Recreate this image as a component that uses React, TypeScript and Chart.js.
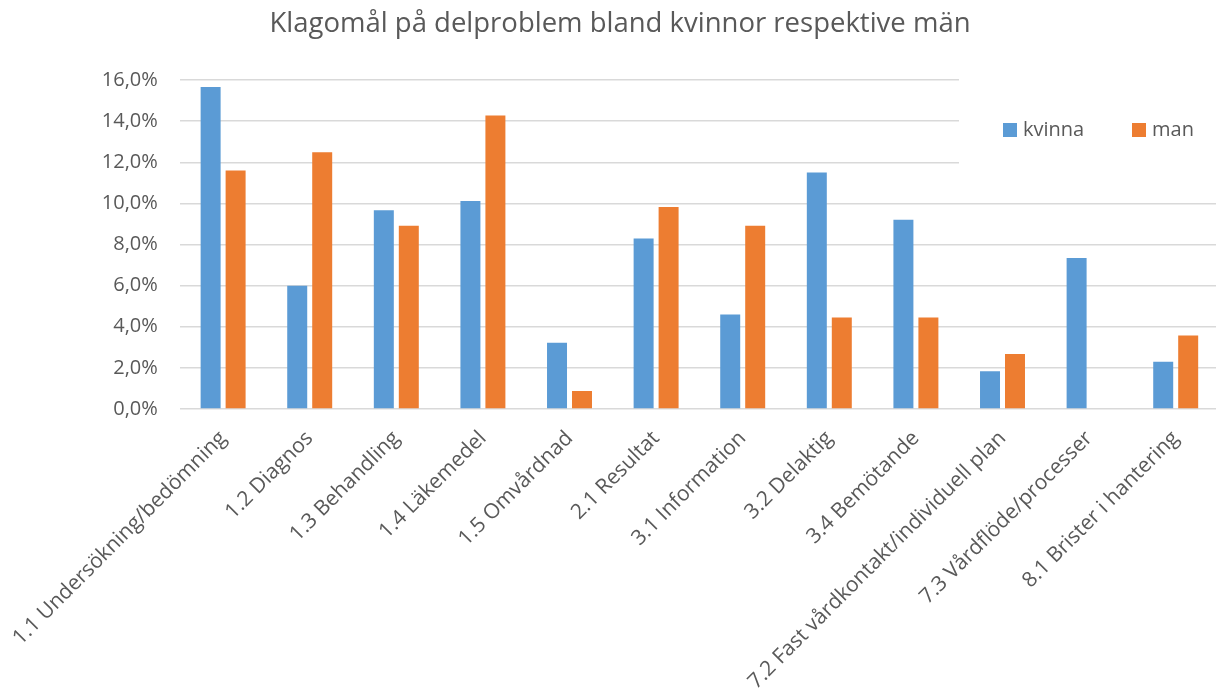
import { useEffect, useRef } from "react";
import { Chart, registerables } from "chart.js";

Chart.register(...registerables);

const title = "Klagomål på delproblem bland kvinnor respektive män";
const categories = [
  "1.1 Undersökning/bedömning",
  "1.2 Diagnos",
  "1.3 Behandling",
  "1.4 Läkemedel",
  "1.5 Omvårdnad",
  "2.1 Resultat",
  "3.1 Information",
  "3.2 Delaktig",
  "3.4 Bemötande",
  "7.2 Fast vårdkontakt/individuell plan",
  "7.3 Vårdflöde/processer",
  "8.1 Brister i hantering",
];
const seriesNames = ["kvinna", "man"];
const kvinnaValues = [15.66, 6.0, 9.67, 10.12, 3.22, 8.29, 4.6, 11.5, 9.2, 1.84, 7.34, 2.3];
const manValues: (number | null)[] = [11.6, 12.49, 8.91, 14.27, 0.88, 9.82, 8.91, 4.45, 4.45, 2.67, null, 3.57];
const yMin = 0;
const yMax = 16;
const yStep = 2;

const FONT = "'Open Sans', sans-serif";
const TEXT = "#595959";
const BLUE = "#5B9BD5";
const ORANGE = "#ED7D31";

const legendPlugin = {
  id: "customLegend",
  afterDraw(chart: any) {
    const ctx = chart.ctx;
    ctx.save();
    ctx.fillStyle = "#ffffff";
    ctx.fillRect(959, 66, 300, 126);
    const xs = [1003, 1132];
    ctx.font = `20px ${FONT}`;
    ctx.textBaseline = "middle";
    ctx.textAlign = "left";
    chart.data.datasets.forEach((ds: any, i: number) => {
      ctx.fillStyle = ds.backgroundColor;
      ctx.fillRect(xs[i], 123, 14, 14);
      ctx.fillStyle = TEXT;
      ctx.fillText(ds.label, xs[i] + 20, 130);
    });
    ctx.restore();
  },
};

export default function App() {
  const ref = useRef<HTMLCanvasElement | null>(null);
  useEffect(() => {
    if (!ref.current) return;
    const chart = new Chart(ref.current, {
      type: "bar",
      data: {
        labels: categories,
        datasets: [
          { label: seriesNames[0], data: kvinnaValues, backgroundColor: BLUE, categoryPercentage: 0.577, barPercentage: 0.8 },
          { label: seriesNames[1], data: manValues, backgroundColor: ORANGE, categoryPercentage: 0.577, barPercentage: 0.8 },
        ],
      },
      options: {
        responsive: false,
        animation: false,
        devicePixelRatio: 1,
        layout: { padding: { left: 21, right: 21, top: 0, bottom: 0 } },
        plugins: {
          legend: { display: false },
          tooltip: { enabled: false },
          title: {
            display: true,
            text: title,
            color: TEXT,
            font: { family: FONT, size: 27.5, weight: "normal", lineHeight: 1.2 },
            padding: { top: 8, bottom: 39 },
          },
        },
        scales: {
          x: {
            grid: { display: false },
            border: { display: false },
            ticks: {
              color: TEXT,
              font: { family: FONT, size: 21 },
              minRotation: 45,
              maxRotation: 45,
              autoSkip: false,
              padding: 9,
            },
            afterFit(scale: any) {
              scale.height = 280;
            },
          },
          y: {
            min: yMin,
            max: yMax,
            grid: { color: "#d9d9d9", lineWidth: 1.5, drawTicks: false },
            border: { display: false },
            ticks: {
              stepSize: yStep,
              color: TEXT,
              padding: 22,
              font: { family: FONT, size: 20 },
              callback: (v: any) => Number(v).toFixed(1).replace(".", ",") + "%",
            },
            afterFit(scale: any) {
              scale.width = 158;
            },
          },
        },
      },
      plugins: [legendPlugin],
    });
    return () => chart.destroy();
  }, []);

  return (
    <div style={{ position: "fixed", left: 0, top: 0, width: 1216, height: 689, overflow: "hidden", background: "#fff" }}>
      <canvas ref={ref} width={1240} height={689} style={{ width: 1240, height: 689, display: "block" }} />
    </div>
  );
}
